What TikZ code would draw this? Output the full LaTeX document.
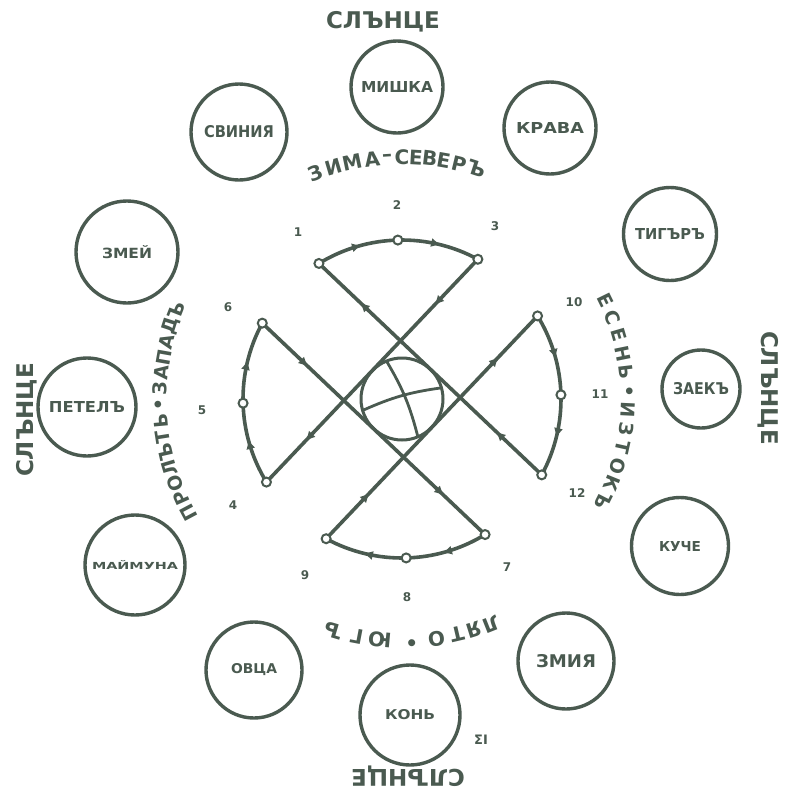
\documentclass[tikz,border=0pt]{standalone}
\usepackage{fontspec}
\setmainfont{DejaVu Sans}
\usepackage{graphicx}
\usetikzlibrary{arrows.meta,decorations.markings,calc}
\definecolor{ink}{RGB}{74,90,80}
\newcommand{\fitlbl}[3]{\resizebox{#1pt}{#2pt}{\bfseries #3}}
\begin{document}
\begin{tikzpicture}[x=1pt,y=-1pt,
  animal/.style={circle,draw=ink,line width=3.4pt,inner sep=0pt,text=ink},
  num/.style={text=ink,font=\bfseries\fontsize{12}{12}\selectfont,inner sep=0pt},
  sun/.style={text=ink,font=\bfseries\fontsize{23}{23}\selectfont,inner sep=0pt},
  arcch/.style={text=ink,font=\bfseries\fontsize{20}{20}\selectfont,inner sep=0pt},
  sidech/.style={text=ink,font=\bfseries\fontsize{19}{19}\selectfont,inner sep=0pt},
  hole/.style={circle,draw=ink,fill=white,line width=2pt,minimum size=9pt,inner sep=0pt},
  fig/.style={color=ink,line width=3.6pt,line cap=round,line join=round},
  arrs/.style 2 args={postaction={decorate},decoration={markings,
     mark=at position #1 with {\arrow{Triangle[length=8pt,width=8pt]}},
     mark=at position #2 with {\arrow{Triangle[length=8pt,width=8pt]}}}}
]
\useasboundingbox (0,0) rectangle (787,790);
\fill[white] (0,0) rectangle (787,790);

% animal circles
\node[animal,minimum size=92pt] (mishka) at (397,87) {\fitlbl{72}{11}{МИШКА}};
\node[animal,minimum size=92pt] (krava) at (550,128) {\fitlbl{68}{11}{КРАВА}};
\node[animal,minimum size=93pt] (tigar) at (670,234) {\fitlbl{70}{11}{ТИГЪРЪ}};
\node[animal,minimum size=78pt] (zaek) at (701,389) {\fitlbl{56}{12}{ЗАЕКЪ}};
\node[animal,minimum size=97pt] (kuche) at (680,546) {\fitlbl{42}{10}{КУЧЕ}};
\node[animal,minimum size=96pt] (zmiya) at (566,661) {\fitlbl{60}{13}{ЗМИЯ}};
\node[animal,minimum size=100pt] (kon) at (410,715) {\fitlbl{50}{10}{КОНЬ}};
\node[animal,minimum size=96pt] (ovca) at (254,670) {\fitlbl{46}{10}{ОВЦА}};
\node[animal,minimum size=100pt] (maimuna) at (135,565) {\fitlbl{86}{9}{МАЙМУНА}};
\node[animal,minimum size=98pt] (petel) at (87,407) {\fitlbl{76}{11}{ПЕТЕЛЪ}};
\node[animal,minimum size=102pt] (zmei) at (127,252) {\fitlbl{50}{13}{ЗМЕЙ}};
\node[animal,minimum size=96pt] (svinia) at (239,132) {\fitlbl{70}{12}{СВИНИЯ}};

% outer sun labels
\node[sun] (sunN) at (383,22) {СЛЪНЦЕ};
\node[sun,rotate=-90] (sunE) at (768,388) {СЛЪНЦЕ};
\node[sun,rotate=90] (sunW) at (27,420) {СЛЪНЦЕ};
\node[sun,rotate=180] (sunS) at (408,776) {СЛЪНЦЕ};

% centre of the figure
\coordinate (C) at (402,399);

% inner curved labels
\foreach \ch/\ang [count=\i] in {З/111.0,И/106.5,М/101.9,А/97.1,–/93.5,С/90,Е/86.7,В/83.4,Е/80.1,Р/76.4,Ъ/72.0}{
  \pgfmathsetmacro\tang{0-(\ang)}\pgfmathsetmacro\rot{\ang-90}
  \node[arcch,rotate=\rot] (top\i) at ($(C)+(\tang:242)$) {\ch};}
\foreach \ch/\ang [count=\i] in {Л/-68.3,Я/-72.7,Т/-76.8,О/-81.8,•/-87.7,Ю/-95.3,Г/-100.8,Ъ/-106.5}{
  \pgfmathsetmacro\tang{0-(\ang)}\pgfmathsetmacro\rot{\ang-90}
  \node[arcch,rotate=\rot] (bot\i) at ($(C)+(\tang:242)$) {\ch};}
\foreach \ch [count=\i from 0] in {Е,С,Е,Н,Ь,•,И,З,Т,О,К,Ъ}{
  \pgfmathsetmacro\ang{26-\i*4.8}
  \pgfmathsetmacro\tang{0-(\ang)}\pgfmathsetmacro\rot{\ang-90}
  \node[sidech,rotate=\rot] (rgt\i) at ($(C)+(\tang:226)$) {\ch};}
\foreach \ch [count=\i from 0] in {П,Р,О,Л,Ъ,Т,Ь,•,З,А,П,А,Д,Ъ}{
  \pgfmathsetmacro\ang{208-\i*3.8}
  \pgfmathsetmacro\tang{0-(\ang)}\pgfmathsetmacro\rot{\ang-90}
  \node[sidech,rotate=\rot] (lft\i) at ($(C)+(\tang:242)$) {\ch};}

% numbers
\node[num] (n1) at (298,232) {1};
\node[num] (n2) at (397,205) {2};
\node[num] (n3) at (495,226) {3};
\node[num] (n4) at (233,505) {4};
\node[num] (n5) at (202,410) {5};
\node[num] (n6) at (228,307) {6};
\node[num] (n7) at (507,567) {7};
\node[num] (n8) at (407,597) {8};
\node[num] (n9) at (305,575) {9};
\node[num] (n10) at (574,302) {10};
\node[num] (n11) at (600,394) {11};
\node[num] (n12) at (577,493) {12};
\node[text=ink,font=\bfseries\fontsize{13}{13}\selectfont,inner sep=0pt] (mk) at (481,740) {ΣI};

% central figure
\foreach \n/\a in {t1/121.5,t2/61.5,tm/91.5,l1/151.5,l2/211.5,lm/181.5,b1/241.5,b2/301.5,bm/271.5,r1/31.5,r2/331.5,rm/1.5}
  \coordinate (\n) at ($(C)+(-\a:159)$);
\draw[fig,arrs={0.2}{0.81}] (t2) -- (l2);
\draw[fig,arrs={0.2}{0.81}] (l1) -- (b2);
\draw[fig,arrs={0.2}{0.81}] (b1) -- (r1);
\draw[fig,arrs={0.2}{0.81}] (r2) -- (t1);
\draw[fig,arrs={0.27}{0.75}] (t1) arc[start angle=-121.5,end angle=-61.5,radius=159];
\draw[fig,arrs={0.27}{0.75}] (l2) arc[start angle=-211.5,end angle=-151.5,radius=159];
\draw[fig,arrs={0.27}{0.75}] (b2) arc[start angle=-301.5,end angle=-241.5,radius=159];
\draw[fig,arrs={0.27}{0.75}] (r1) arc[start angle=-31.5,end angle=28.5,radius=159];
\draw[fig,line width=3pt] (C) circle[radius=41];
\draw[fig,line width=2.8pt] ($(C)+(-112:40)$) to[bend left=8] ($(C)+(-293:40)$);
\draw[fig,line width=2.8pt] ($(C)+(-196:40)$) to[bend left=8] ($(C)+(-16:40)$);
\foreach \n in {t1,t2,tm,l1,l2,lm,b1,b2,bm,r1,r2,rm}
  \node[hole] (h\n) at (\n) {};
\end{tikzpicture}
\end{document}
